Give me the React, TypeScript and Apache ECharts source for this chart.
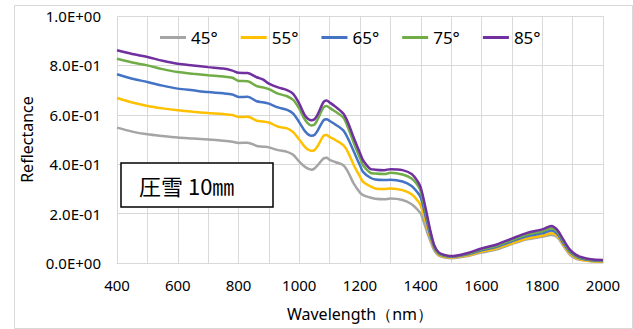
import React, { useEffect, useRef } from "react";
import * as echarts from "echarts";

const wavelengths = [400,450,500,550,600,650,700,750,780,800,830,860,880,900,930,960,980,1000,1020,1040,1050,1060,1080,1090,1100,1120,1145,1160,1180,1200,1210,1233,1250,1280,1300,1340,1370,1390,1400,1415,1430,1445,1460,1480,1500,1550,1600,1650,1700,1750,1800,1830,1850,1870,1890,1910,1930,1960,2000];

const r45 = [0.548,0.532,0.521,0.514,0.508,0.504,0.500,0.495,0.491,0.486,0.487,0.474,0.471,0.468,0.457,0.450,0.438,0.410,0.388,0.378,0.382,0.395,0.423,0.426,0.418,0.408,0.396,0.370,0.320,0.285,0.275,0.265,0.260,0.258,0.261,0.255,0.238,0.215,0.200,0.147,0.095,0.050,0.030,0.022,0.019,0.027,0.042,0.055,0.077,0.096,0.106,0.113,0.104,0.069,0.035,0.018,0.012,0.007,0.005];
const r55 = [0.668,0.650,0.636,0.626,0.618,0.612,0.607,0.603,0.599,0.591,0.592,0.576,0.573,0.569,0.552,0.545,0.530,0.500,0.468,0.454,0.457,0.472,0.515,0.518,0.510,0.497,0.477,0.450,0.395,0.350,0.329,0.311,0.302,0.300,0.302,0.295,0.278,0.252,0.232,0.174,0.110,0.058,0.032,0.025,0.022,0.030,0.046,0.060,0.080,0.100,0.111,0.120,0.110,0.074,0.040,0.022,0.013,0.008,0.005];
const r65 = [0.764,0.746,0.733,0.718,0.706,0.699,0.692,0.687,0.682,0.672,0.673,0.655,0.651,0.645,0.630,0.620,0.605,0.570,0.532,0.515,0.518,0.535,0.578,0.582,0.575,0.560,0.537,0.505,0.450,0.395,0.369,0.346,0.338,0.336,0.337,0.330,0.312,0.285,0.265,0.194,0.120,0.062,0.036,0.028,0.025,0.034,0.051,0.066,0.088,0.108,0.120,0.132,0.118,0.080,0.046,0.027,0.017,0.011,0.008];
const r75 = [0.827,0.812,0.800,0.785,0.773,0.766,0.760,0.755,0.750,0.737,0.736,0.716,0.711,0.704,0.686,0.675,0.660,0.625,0.578,0.557,0.560,0.580,0.630,0.636,0.628,0.612,0.589,0.550,0.485,0.425,0.396,0.366,0.362,0.360,0.365,0.358,0.342,0.315,0.290,0.214,0.132,0.066,0.038,0.030,0.027,0.036,0.055,0.070,0.093,0.115,0.128,0.141,0.126,0.087,0.050,0.030,0.020,0.013,0.010];
const r85 = [0.861,0.846,0.834,0.819,0.807,0.800,0.793,0.787,0.779,0.770,0.769,0.752,0.743,0.726,0.711,0.700,0.685,0.645,0.595,0.578,0.582,0.600,0.652,0.658,0.650,0.632,0.605,0.570,0.505,0.445,0.416,0.382,0.378,0.376,0.380,0.376,0.360,0.330,0.305,0.228,0.140,0.070,0.042,0.032,0.028,0.039,0.059,0.075,0.099,0.122,0.136,0.150,0.133,0.093,0.055,0.034,0.023,0.015,0.012];

const seriesNames = ["45°", "55°", "65°", "75°", "85°"];
const seriesValues = [r45, r55, r65, r75, r85];
const seriesColors = ["#A5A5A5", "#FFC000", "#4472C4", "#70AD47", "#7030A0"];
const yTickLabels = ["0.0E+00", "2.0E-01", "4.0E-01", "6.0E-01", "8.0E-01", "1.0E+00"];
const annotation = "圧雪 10㎜";

export default function App() {
  const ref = useRef<HTMLDivElement>(null);
  useEffect(() => {
    if (!ref.current) return;
    const chart = echarts.init(ref.current, null, { renderer: "svg" });
    const font = "'Noto Sans', sans-serif";
    chart.setOption({
      animation: false,
      backgroundColor: "#ffffff",
      textStyle: { fontFamily: font },
      grid: { left: 117, right: 30, top: 16, bottom: 66 },
      legend: {
        left: 155,
        top: 24,
        itemGap: 23,
        itemWidth: 26,
        itemHeight: 3,
        icon: "rect",
        textStyle: { fontSize: 17, color: "#000", fontFamily: font },
        data: seriesNames,
      },
      xAxis: {
        type: "value",
        min: 400,
        max: 2000,
        interval: 100,
        name: "Wavelength（nm）",
        nameLocation: "middle",
        nameGap: 43,
        nameTextStyle: { fontSize: 16, color: "#000", fontFamily: font },
        axisLine: { show: true, lineStyle: { color: "#d9d9d9", width: 1 } },
        axisTick: { show: false },
        axisLabel: {
          fontSize: 15,
          color: "#000",
          margin: 14,
          formatter: (v: number) => (Math.round(v) % 200 === 0 ? String(Math.round(v)) : ""),
        },
        splitLine: { show: true, lineStyle: { color: "#d9d9d9", width: 1 } },
      },
      yAxis: {
        type: "value",
        min: 0,
        max: 1,
        interval: 0.2,
        name: "Reflectance",
        nameLocation: "middle",
        nameGap: 80,
        nameTextStyle: { fontSize: 16, color: "#000", fontFamily: font },
        axisLine: { show: false },
        axisTick: { show: false },
        axisLabel: {
          fontSize: 15,
          color: "#000",
          margin: 16,
          formatter: (v: number) => yTickLabels[Math.round(v / 0.2)] ?? "",
        },
        splitLine: { show: true, lineStyle: { color: "#d9d9d9", width: 1 } },
      },
      graphic: [
        {
          type: "rect",
          left: 12,
          top: 3,
          shape: { x: 0, y: 0, width: 618, height: 323 },
          style: { fill: "none", stroke: "#d9d9d9", lineWidth: 1 },
          silent: true,
          z: -1,
        },
        {
          type: "rect",
          shape: { x: 121, y: 163, width: 152, height: 44 },
          style: { fill: "#ffffff", stroke: "#000000", lineWidth: 1.5 },
          z: 10,
        },
        {
          type: "text",
          x: 139,
          y: 185,
          style: {
            text: annotation,
            fontSize: 22,
            fontFamily: "'Noto Sans CJK JP', sans-serif",
            fill: "#000",
            verticalAlign: "middle",
            align: "left",
          },
          z: 11,
        },
      ],
      series: seriesNames.map((name, i) => ({
        name,
        type: "line",
        data: wavelengths.map((w, j) => [w, seriesValues[i][j]]),
        symbol: "none",
        smooth: 0.3,
        lineStyle: { width: 2.5, color: seriesColors[i] },
        itemStyle: { color: seriesColors[i] },
      })),
    });
    return () => chart.dispose();
  }, []);
  return (
    <div
      ref={ref}
      style={{ position: "fixed", left: 0, top: 0, width: 633, height: 329, background: "#fff" }}
    />
  );
}
